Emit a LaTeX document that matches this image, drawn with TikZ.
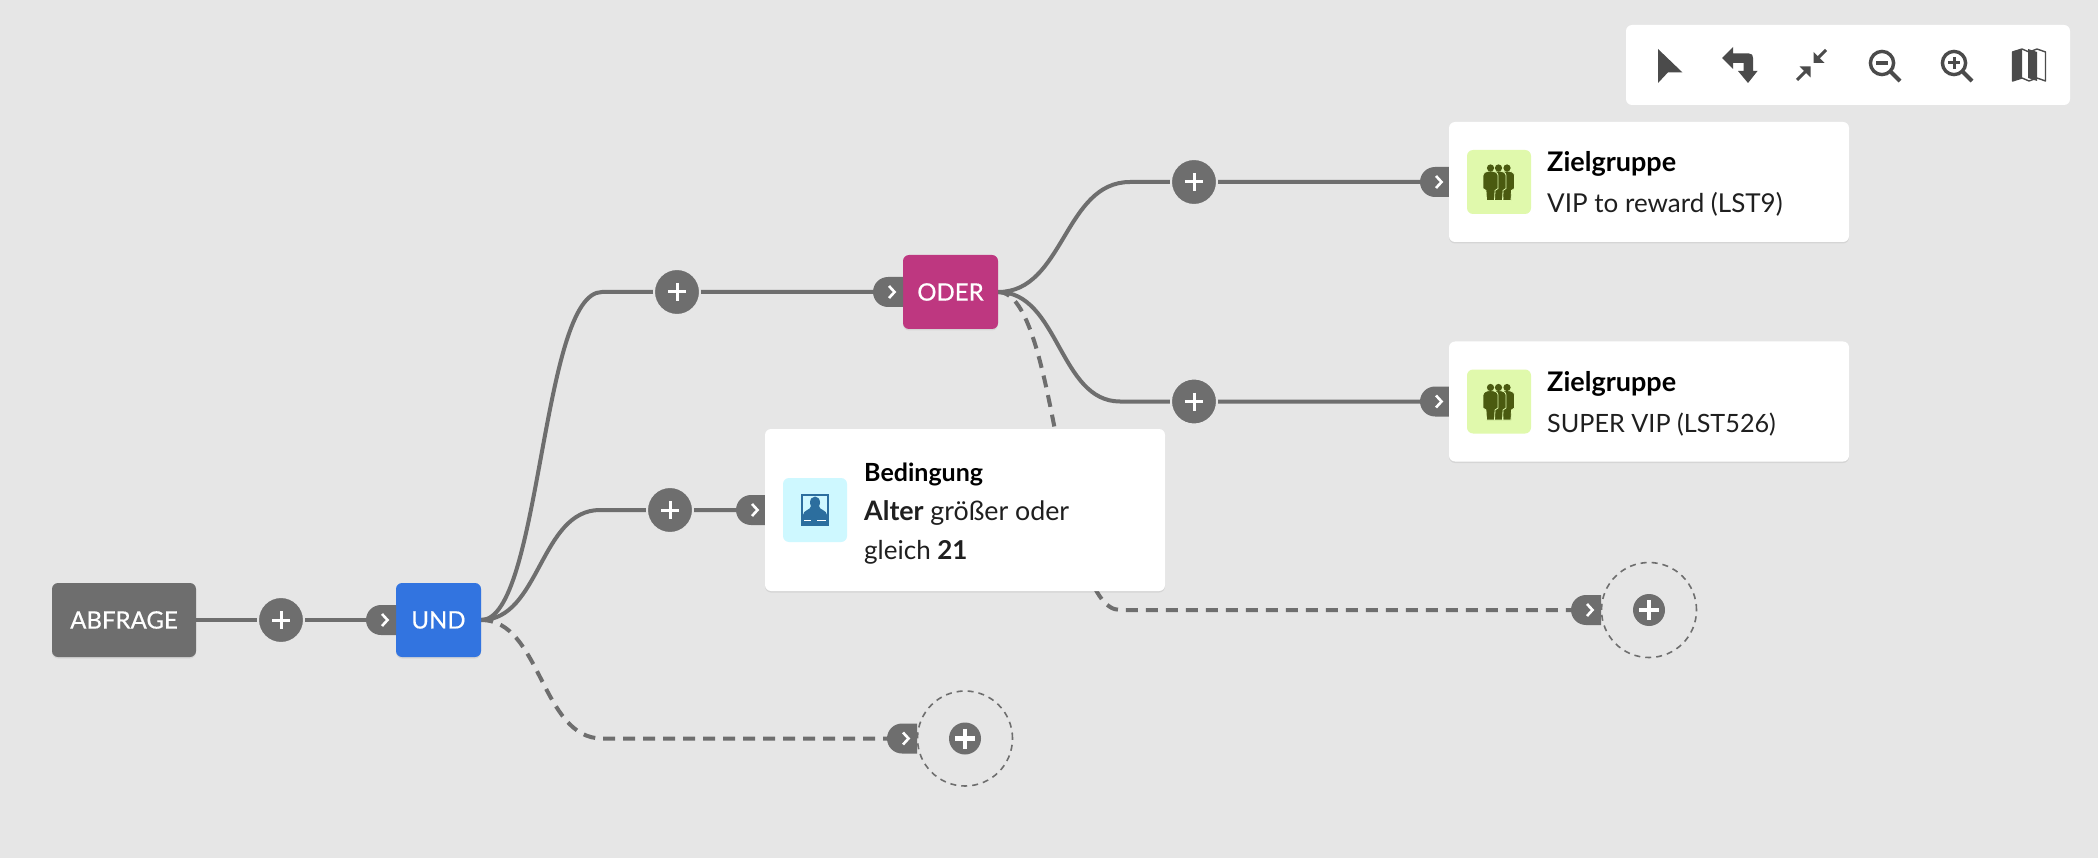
\documentclass[tikz,border=0pt]{standalone}
\usepackage{fontspec}
\setmainfont{Lato}
\newfontfamily\opfont[RawFeature={embolden=0.5}]{Lato}
\usetikzlibrary{shapes.misc,shadows,calc,backgrounds}
\definecolor{bgc}{HTML}{E6E6E6}
\definecolor{grayc}{HTML}{6E6E6E}
\definecolor{undc}{HTML}{3274E0}
\definecolor{oderc}{HTML}{BE3780}
\definecolor{toolc}{HTML}{4B4B4B}
\definecolor{cyanbg}{HTML}{CEF8FF}
\definecolor{cyanfg}{HTML}{2C6E9E}
\definecolor{greenbg}{HTML}{E0F9AC}
\definecolor{greenfg}{HTML}{4A5A10}
\tikzset{
  softshadow/.style={drop shadow={shadow xshift=0pt,shadow yshift=-1.5pt,opacity=.07,fill=black}},
  conn/.style={draw=grayc,line width=4pt},
  ghost/.style={draw=grayc,line width=4pt,dash pattern=on 12pt off 8pt},
  opnode/.style={rectangle,rounded corners=6pt,minimum height=74pt,text=white,font=\fontsize{24}{26}\opfont,inner sep=0pt,softshadow},
  cardnode/.style={rectangle,fill=white,rounded corners=6pt,minimum width=400pt,inner sep=0pt,softshadow},
  iconbox/.style={rectangle,rounded corners=6pt,minimum size=64pt,inner sep=0pt},
  tabnode/.style={rounded rectangle,rounded rectangle right arc=none,fill=grayc,minimum width=30pt,minimum height=30pt,inner sep=0pt},
  chevron/.style={draw=white,line width=2.6pt,line cap=butt},
  plusnode/.style={circle,fill=grayc,draw=bgc,line width=2pt,minimum size=46pt,inner sep=0pt},
  crossmark/.style={draw=white,line width=3pt},
  ringnode/.style={circle,draw=grayc,line width=1.6pt,dash pattern=on 6pt off 5pt,minimum size=95pt,inner sep=0pt},
  addnode/.style={circle,fill=grayc,minimum size=32pt,inner sep=0pt},
  titletext/.style={anchor=base west,inner sep=0pt,font=\fontsize{27}{30}\selectfont\bfseries,text=black},
  bodytext/.style={anchor=base west,inner sep=0pt,font=\fontsize{26}{30}\selectfont,text=black!88},
  toolicon/.style={fill=toolc,draw=none},
  toolline/.style={draw=toolc,line width=3.4pt},
}
\newcommand{\tabat}[3]{\node[tabnode] (#1) at (#2,#3) {};
  \draw[chevron] ($(#1.center)+(1,-6)$) -- ++(5.5,6) -- ++(-5.5,6);}
\newcommand{\plusat}[3]{\node[plusnode] (#1) at (#2,#3) {};
  \draw[crossmark] (#1.center) +(-9,0) -- +(9,0) +(0,-9) -- +(0,9);}
\newcommand{\ghostat}[3]{\node[ringnode] (#1) at (#2,#3) {};
  \node[addnode] (#1add) at (#2,#3) {};
  \draw[draw=white,line width=4.4pt] (#1add.center) +(-10,0) -- +(10,0) +(0,-10) -- +(0,10);}
\newcommand{\audience}[1]{%
  \begin{scope}[shift={(#1)}]
    \foreach \dx in {16.5,8,0} {
      \fill[greenfg,draw=greenbg,line width=.8pt] (\dx-7.5,-7) .. controls (\dx-7.5,-13) and (\dx+7.5,-13) .. (\dx+7.5,-7)
        -- (\dx+7.5,6) -- (\dx+4.5,8) -- (\dx+4,18) -- (\dx-4,18) -- (\dx-4.5,8) -- (\dx-7.5,6) -- cycle;
      \fill[greenfg] (\dx,-14.5) circle (3.6);
    }
  \end{scope}}
\begin{document}
\begin{tikzpicture}[x=1pt,y=-1pt]
\useasboundingbox (0,0) rectangle (2098,858);

% free ends
\coordinate (k1) at (602,292);
\coordinate (k2) at (600,510);
\coordinate (k3) at (602,738.5);
\coordinate (k4) at (1130,182);
\coordinate (k5) at (1120,401.5);
\coordinate (k6) at (1120,610);

% operator nodes
\node[opnode,fill=grayc,minimum width=144pt] (abfrage) at (124,620) {ABFRAGE};
\node[opnode,fill=undc,minimum width=85pt] (und) at (438.5,620) {UND};
\node[opnode,fill=oderc,minimum width=95pt] (oder) at (950.5,292) {ODER};

% tabs
\tabat{tabund}{381}{620}
\tabat{taboder}{888}{292}
\tabat{tabcond}{751}{510}
\tabat{tabz}{1435}{182}
\tabat{tabs}{1435}{401.5}
\tabat{tabg}{1586}{610}
\tabat{tabh}{902}{738.5}

% plus buttons
\plusat{p0}{281}{620}
\plusat{p1}{677}{292}
\plusat{p2}{670}{510}
\plusat{p3}{1194}{182}
\plusat{p4}{1194}{401.5}

% empty branch ends
\ghostat{g1}{1649}{610}
\ghostat{g2}{965}{738.5}

% condition card
\node[cardnode,minimum height=162pt] (cond) at (965,510) {};
\node[iconbox,fill=cyanbg] (condicon) at (815,510) {};
\fill[cyanfg] (801,494) rectangle (829,526);
\fill[cyanbg] (803,496) rectangle (827,515);
\fill[cyanfg] (815,502.5) ellipse (5 and 6);
\fill[cyanfg] (803,515) .. controls (803,510) and (811,510) .. (811,506) -- (819,506) .. controls (819,510) and (827,510) .. (827,515) -- cycle;
\fill[white] (804,519.5) rectangle (811,521);
\fill[white] (817,519.5) rectangle (826,521);
\node[titletext,font=\fontsize{25}{30}\selectfont\bfseries] (condt) at (864,481) {Bedingung};
\node[bodytext,font=\fontsize{26.8}{30}\selectfont] (condl) at (864,520) {\textbf{Alter} größer oder};
\node[bodytext] (condm) at (864,559) {gleich \textbf{21}};

% audience cards
\node[cardnode,minimum height=120pt] (z1) at (1649,182) {};
\node[iconbox,fill=greenbg] (z1icon) at (1499,182) {};
\audience{1490.5,182.5}
\node[titletext] (z1t) at (1547,172) {Zielgruppe};
\node[bodytext] (z1b) at (1547,213) {VIP to reward (LST9)};

\node[cardnode,minimum height=120pt] (z2) at (1649,401.5) {};
\node[iconbox,fill=greenbg] (z2icon) at (1499,401.5) {};
\audience{1490.5,402}
\node[titletext] (z2t) at (1547,391) {Zielgruppe};
\node[bodytext,font=\fontsize{25.2}{30}\selectfont] (z2b) at (1547,432) {SUPER VIP (LST526)};

% connectors and page background, behind everything
\begin{pgfonlayer}{background}
\fill[bgc] (0,0) rectangle (2098,858);
\draw[ghost] (und.east) .. controls (541,620) and (541,738.5) .. (k3) -- (tabh.west);
\draw[ghost] (oder.east) .. controls (1059,292) and (1059,610) .. (k6) -- (tabg.west);
\draw[conn] (abfrage.east) -- (tabund.west);
\draw[conn] (und.east) .. controls (541,620) and (541,292) .. (k1) -- (taboder.west);
\draw[conn] (und.east) .. controls (540,620) and (540,510) .. (k2) -- (tabcond.west);
\draw[conn] (oder.east) .. controls (1064,292) and (1064,182) .. (k4) -- (tabz.west);
\draw[conn] (oder.east) .. controls (1059,292) and (1059,401.5) .. (k5) -- (tabs.west);
\end{pgfonlayer}

% toolbar
\node[rectangle,fill=white,rounded corners=6pt,minimum width=444pt,minimum height=80pt,inner sep=0pt] (toolbar) at (1848,65) {};
\fill[toolicon] (1658,49) -- (1682.3,72.3) -- (1668,72.3) -- (1658,83) -- cycle;
\fill[toolicon] (1722,58) -- (1733,47) -- (1733,53.5) -- (1749,53.5) .. controls (1752,53.5) and (1753,55) .. (1753,58) -- (1753,71) -- (1757.5,71) -- (1748,83) -- (1738,71) -- (1743.5,71) -- (1743.5,63) -- (1733,63) -- (1733,69) -- cycle;
\draw[toolline,line width=3pt] (1826,50) -- (1816,60);
\fill[toolicon] (1813.5,63) -- (1813.5,52) -- (1824.5,63) -- cycle;
\draw[toolline,line width=3pt] (1797,80) -- (1807,70);
\fill[toolicon] (1810.5,66.5) -- (1810.5,77.5) -- (1799.5,66.5) -- cycle;
\draw[toolline] (1882,63) circle (11.6);
\draw[toolline,line width=4pt] (1891,72) -- (1900,81);
\draw[toolline] (1876,63) -- (1888,63);
\draw[toolline] (1954,63) circle (11.6);
\draw[toolline,line width=4pt] (1963,72) -- (1972,81);
\draw[toolline,line width=3pt] (1948,63) -- (1960,63) (1954,57) -- (1954,69);
\fill[toolicon] (2012.5,52) -- (2022,49) -- (2022,78) -- (2012.5,81) -- cycle;
\fill[toolicon] (2028,49) -- (2037,52) -- (2037,81) -- (2028,78) -- cycle;
\draw[toolc,line width=1.4pt,line join=round] (2012.5,52) -- (2022,49) -- (2029,52) -- (2037,49) -- (2045.5,52) -- (2045.5,81) -- (2037,78) -- (2029,81) -- (2022,78) -- (2012.5,81) -- cycle;
\end{tikzpicture}
\end{document}
